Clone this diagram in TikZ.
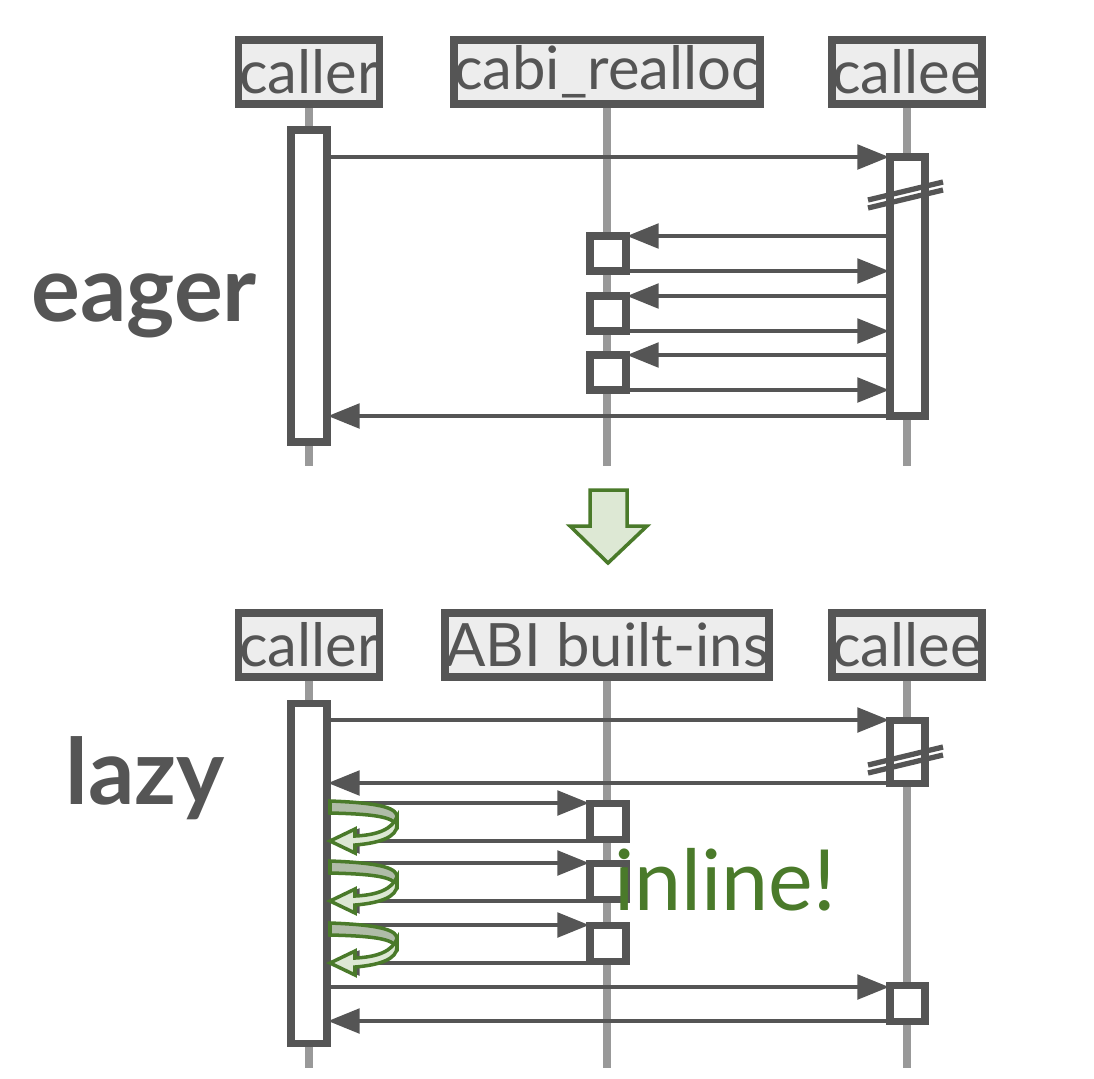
\documentclass[tikz,border=0pt]{standalone}
\usepackage{fontspec}
\setmainfont{Lato}
\usetikzlibrary{arrows.meta}
\definecolor{dk}{HTML}{555555}
\definecolor{ll}{HTML}{999999}
\definecolor{gr}{HTML}{4A7A2A}
\definecolor{lg}{HTML}{DDE8D4}
\definecolor{mg}{HTML}{B0BCA8}
\tikzset{
  head/.style={draw=dk, line width=2.2pt, fill=black!7, text=dk, inner sep=0pt, font=\fontsize{17}{17}\selectfont},
  act/.style={draw=dk, line width=2pt, fill=white},
  life/.style={draw=ll, line width=2pt},
  msg/.style={draw=dk, line width=1pt, -{Triangle[length=9pt,width=7pt]}},
  brk/.style={draw=dk, line width=1.5pt},
}
\begin{document}
\begin{tikzpicture}[x=0.01cm,y=-0.01cm]
  \useasboundingbox (0,0) rectangle (1094,1078);
  % eager
  \draw[life] (309,104) -- (309,466) (607,104) -- (607,466) (907,104) -- (907,466);
  \node[head, minimum width=1.41cm, minimum height=0.64cm] (caller1) at (309,72) {caller};
  \node[head, minimum width=2.92cm, minimum height=0.64cm] (realloc) at (607,72) {cabi\_realloc};
  \node[head, minimum width=1.40cm, minimum height=0.64cm] (callee1) at (907,72) {callee};
  \draw[act] (291,130) rectangle (327,442);
  \draw[act] (890,157) rectangle (925,416);
  \draw[brk] (868,200) -- (943,182) (868,208) -- (943,190);
  \foreach \y in {236,296,355} {
    \draw[act] (590,\y) rectangle (626,\y+35);
    \draw[msg] (890,\y) -- (627,\y);
    \draw[msg] (627,\y+35) -- (889,\y+35);
  }
  \draw[msg] (328,157) -- (889,157);
  \draw[msg] (889,416) -- (328,416);
  \node[text=dk, font=\fontsize{26}{26}\selectfont\bfseries] (eager) at (144,306) {eager};
  % transition arrow
  \draw[gr, line width=1pt, fill=lg] (590,490) -- (627,490) -- (627,526) -- (647,526) -- (608,563) -- (570,526) -- (590,526) -- cycle;
  % lazy
  \draw[life] (309,677) -- (309,1068) (607,677) -- (607,1068) (907,677) -- (907,1068);
  \node[head, minimum width=1.41cm, minimum height=0.64cm] (caller2) at (309,645) {caller};
  \node[head, minimum width=2.91cm, minimum height=0.64cm] (abi) at (607,645) {ABI built-ins};
  \node[head, minimum width=1.40cm, minimum height=0.64cm] (callee2) at (907,645) {callee};
  \draw[act] (291,703) rectangle (327,1043);
  \draw[act] (890,720) rectangle (925,783);
  \draw[brk] (868,765) -- (943,747) (868,773) -- (943,755);
  \draw[msg] (328,720) -- (889,720);
  \draw[msg] (889,783) -- (328,783);
  \foreach \y in {803,863,925} {
    \draw[act] (590,\y) rectangle (626,\y+36);
    \draw[msg] (328,\y) -- (589,\y);
    \draw[msg] (590,\y+38) -- (328,\y+38);
    % inline curl
    \draw[gr, line width=1pt, fill=mg] (330,\y-2) .. controls (385,\y) and (397,\y+6) .. (397,\y+14)
      -- (397,\y+22) .. controls (392,\y+14) and (375,\y+11) .. (330,\y+10) -- cycle;
    \draw[gr, line width=1pt, fill=lg] (397,\y+22) .. controls (397,\y+34) and (380,\y+40) .. (355,\y+42)
      -- (355,\y+50) -- (330,\y+38) -- (355,\y+26) -- (355,\y+33) .. controls (378,\y+32) and (392,\y+26) .. (397,\y+14) -- cycle;
  }
  \node[text=gr, font=\fontsize{24}{24}\selectfont] (inl) at (725,880) {inline!};
  \draw[act] (890,985) rectangle (925,1021);
  \draw[msg] (328,987) -- (889,987);
  \draw[msg] (889,1021) -- (328,1021);
  \node[text=dk, font=\fontsize{26}{26}\selectfont\bfseries] (lazy) at (145,778) {lazy};
\end{tikzpicture}
\end{document}
